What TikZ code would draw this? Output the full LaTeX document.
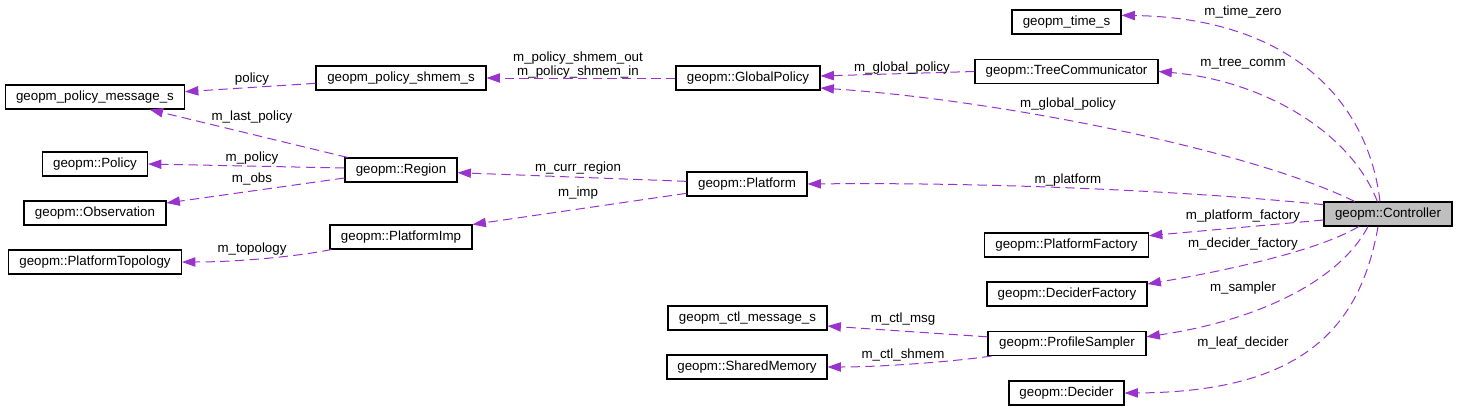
\documentclass[tikz,border=0pt]{standalone}
\usepackage{fontspec}
\setmainfont{Liberation Sans}
\usepackage{tikz}
\usetikzlibrary{arrows.meta, positioning, calc}
\definecolor{dxPurple}{RGB}{154,50,205}
\definecolor{dxGray}{RGB}{191,191,191}
\tikzset{
    cls/.style={rectangle, draw=black, fill=#1, line width=0.8pt, inner sep=0pt,
                minimum height=18pt, font=\fontsize{10}{12}\selectfont},
    cls/.default=white,
    member/.style={-{Triangle[length=10pt, width=7pt]}, draw=dxPurple, line width=0.75pt,
                   dash pattern=on 7pt off 4pt},
    lbl/.style={font=\fontsize{10}{11}\selectfont, inner sep=0pt, align=center}
}
\begin{document}
\begin{tikzpicture}[x=0.75pt, y=-0.75pt]
    \useasboundingbox (0,0) rectangle (1457,411);
    \foreach \nm/\px/\py/\w/\lab in {
        timeS/1066.5/22/109/geopm\_time\_s,
        treeComm/1066.5/71.5/183/geopm::TreeCommunicator,
        globalPolicy/748/78/144/geopm::GlobalPolicy,
        policyShmem/401/78/170/geopm\_policy\_shmem\_s,
        policyMsg/95/97/179/geopm\_policy\_message\_s,
        policy/95/164/105/geopm::Policy,
        region/401/170/112/geopm::Region,
        observation/95/213/142/geopm::Observation,
        platformImp/401/237/142/geopm::PlatformImp,
        platformTopo/95/262/173/geopm::PlatformTopology,
        platform/747/184/120/geopm::Platform,
        platformFactory/1066.5/245/164/geopm::PlatformFactory,
        deciderFactory/1067/294/160/geopm::DeciderFactory,
        ctlMsg/747.5/318/159/geopm\_ctl\_message\_s,
        profileSampler/1067/343.5/158/geopm::ProfileSampler,
        sharedMem/747/367/160/geopm::SharedMemory,
        decider/1066.5/393/115/geopm::Decider} {
        \node[cls, minimum width=\w*0.75pt] (\nm) at (\px,\py) {\lab};
    }
    \node[cls=dxGray, minimum width=128*0.75pt] (controller) at (1388,214) {geopm::Controller};

    % members of the controller
    \draw[member] ([xshift=-6pt]controller.north) .. controls (1368,100) and (1290,18) .. ([yshift=5pt]timeS.east);
    \draw[member] ([xshift=-8pt]controller.north) .. controls (1350,130) and (1260,80) .. (treeComm.east);
    \draw[member] ([xshift=-25pt]controller.north) .. controls (1250,150) and (1000,100) .. ([yshift=-7.5pt]globalPolicy.east);
    \draw[member] ([yshift=7pt]controller.west) .. controls (1200,192) and (1000,182) .. (platform.east);
    \draw[member] ([yshift=-4.5pt]controller.west) -- ([yshift=7pt]platformFactory.east);
    \draw[member] ([xshift=-22pt]controller.south) .. controls (1320,250) and (1230,270) .. ([yshift=7.5pt]deciderFactory.east);
    \draw[member] ([xshift=-15pt]controller.south) .. controls (1340,280) and (1260,320) .. ([yshift=5pt]profileSampler.east);
    \draw[member] ([xshift=-7.5pt]controller.south) .. controls (1360,330) and (1300,392) .. (decider.east);
    \node[lbl] (lTimeZero) at (1243,12) {m\_time\_zero};
    \node[lbl] (lTreeComm) at (1243,64) {m\_tree\_comm};
    \node[lbl] (lGlobalCtl) at (1068,104) {m\_global\_policy};
    \node[lbl] (lPlatform) at (1068,180) {m\_platform};
    \node[lbl] (lPlatformFac) at (1243,216) {m\_platform\_factory};
    \node[lbl] (lDeciderFac) at (1243,244) {m\_decider\_factory};
    \node[lbl] (lSampler) at (1243,288) {m\_sampler};
    \node[lbl] (lLeafDecider) at (1243,343) {m\_leaf\_decider};

    % the rest
    \draw[member] (treeComm.west) -- ([yshift=1.5pt]globalPolicy.east);
    \draw[member] (globalPolicy.west) -- (policyShmem.east);
    \draw[member] ([yshift=-4pt]policyShmem.west) -- ([yshift=4pt]policyMsg.east);
    \draw[member] ([xshift=-40pt]region.north) -- ([xshift=41pt]policyMsg.south);
    \draw[member] ([yshift=1.5pt]region.west) -- (policy.east);
    \draw[member] ([yshift=-6pt]region.west) -- ([yshift=7.5pt]observation.east);
    \draw[member] ([yshift=2pt]platform.west) -- ([yshift=-2pt]region.east);
    \draw[member] ([yshift=-7pt]platform.west) -- (platformImp.north east);
    \draw[member] ([xshift=1.5pt]platformImp.south west) .. controls (300,256) and (240,262) .. (platformTopo.east);
    \draw[member] ([yshift=5pt]profileSampler.west) -- ([yshift=-6pt]ctlMsg.east);
    \draw[member] ([xshift=3pt]profileSampler.south west) .. controls (950,362) and (880,367) .. (sharedMem.east);
    \node[lbl] (lGlobalTree) at (902,68) {m\_global\_policy};
    \node[lbl] (lShmem) at (578,65) {m\_policy\_shmem\_out\\m\_policy\_shmem\_in};
    \node[lbl] (lPolicyMsg) at (252,79) {policy};
    \node[lbl] (lLastPolicy) at (252,117) {m\_last\_policy};
    \node[lbl] (lPolicy) at (252,158) {m\_policy};
    \node[lbl] (lObs) at (252,179) {m\_obs};
    \node[lbl] (lCurrRegion) at (578,168) {m\_curr\_region};
    \node[lbl] (lImp) at (578,193) {m\_imp};
    \node[lbl] (lTopology) at (252,249) {m\_topology};
    \node[lbl] (lCtlMsg) at (903,319) {m\_ctl\_msg};
    \node[lbl] (lCtlShmem) at (903,355) {m\_ctl\_shmem};
\end{tikzpicture}
\end{document}
